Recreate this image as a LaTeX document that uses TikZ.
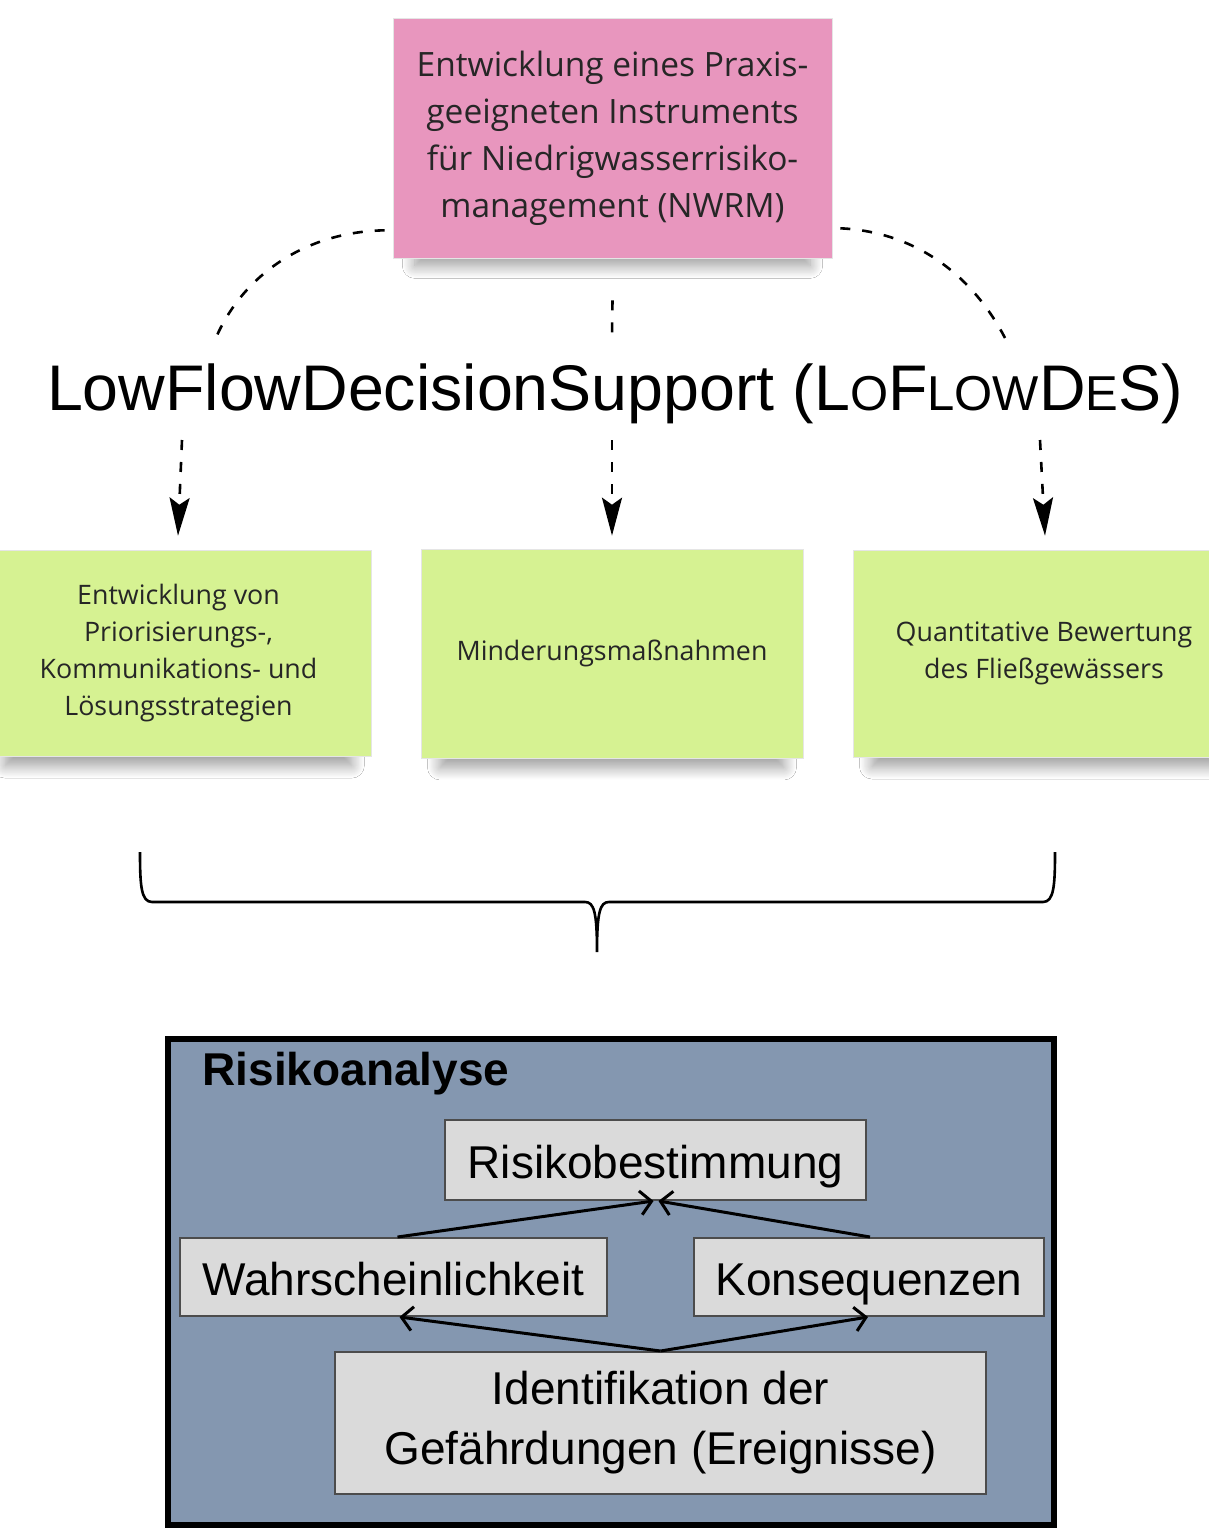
\documentclass[tikz,border=0pt]{standalone}
\usepackage{fontspec}
\newfontfamily\notefont{Open Sans}
\newfontfamily\arialfont{Liberation Sans}
\usetikzlibrary{arrows.meta,shadows.blur}
\definecolor{notepink}{RGB}{232,150,190}
\definecolor{notegreen}{RGB}{214,242,146}
\definecolor{riskblue}{RGB}{132,151,176}
\definecolor{boxgray}{RGB}{218,218,218}
\newcommand{\smallcap}[1]{{\fontsize{49}{49}\selectfont #1}}

\begin{document}
\begin{tikzpicture}[x=1pt,y=-1pt,
    note/.style={font=\notefont, text=black!85, align=center, draw=black!10, line width=0.6pt,
        blur shadow={shadow xshift=0pt, shadow yshift=-22pt, shadow scale=0.9,
            shadow opacity=40, shadow blur steps=14, shadow blur radius=14pt}},
    dashline/.style={line width=2.6pt, dash pattern=on 10pt off 12pt},
    dasharrow/.style={dashline, -{Stealth[length=38pt,width=20pt,inset=7pt]}},
    riskbox/.style={draw=black!70, line width=2pt, fill=boxgray, inner sep=0pt,
        font=\arialfont\fontsize{46}{60}\selectfont, align=center},
    riskline/.style={riskbox, text height=41pt, text depth=4pt},
    riskarrow/.style={line width=3pt, -{Straight Barb[length=11pt,width=24pt,line width=3pt]}}
]
    \useasboundingbox[fill=white] (0,0) rectangle (1209,1531);

    \node[note, fill=notepink, minimum width=439pt, minimum height=240pt,
        font=\notefont\fontsize{33.5}{47}\selectfont] (nwrm) at (612.5,138)
        {Entwicklung eines Praxis-\\geeigneten Instruments\\f\"ur Niedrigwasserrisiko-\\management (NWRM)};

    \node[font=\arialfont\fontsize{64.5}{70}\selectfont] (title) at (615,394)
        {LowFlowDecisionSupport (L\smallcap{O}F\smallcap{LOW}D\smallcap{E}S)};

    \node[note, fill=notegreen, minimum width=385pt, minimum height=206pt,
        font=\notefont\fontsize{26.8}{37}\selectfont] (strat) at (178.5,653)
        {Entwicklung von\\Priorisierungs-,\\Kommunikations- und\\L\"osungsstrategien};
    \node[note, fill=notegreen, minimum width=382pt, minimum height=209pt,
        font=\notefont\fontsize{26.8}{37}\selectfont] (minder) at (612,653.5)
        {Minderungsma\ss nahmen};
    \node[note, fill=notegreen, minimum width=382pt, minimum height=207pt,
        font=\notefont\fontsize{26.8}{37}\selectfont] (quant) at (1044,653.5)
        {Quantitative Bewertung\\des Flie\ss gew\"assers};

    \coordinate (arcL) at (215,340);
    \coordinate (arcM) at (612,336);
    \coordinate (arcR) at (1005,338);
    \coordinate (outL) at (182,440);
    \coordinate (outM) at (612,440);
    \coordinate (outR) at (1040,440);

    \draw[dashline] ([xshift=-8pt,yshift=28pt]nwrm.south west)
        .. controls (300,232) and (240,280) .. (arcL);
    \draw[dashline] ([xshift=8pt,yshift=30pt]nwrm.south east)
        .. controls (920,232) and (975,280) .. (arcR);
    \draw[dashline] ([yshift=-42pt]nwrm.south) -- (arcM);

    \draw[dasharrow] (outL) -- ([xshift=-0.5pt,yshift=14pt]strat.north);
    \draw[dasharrow] (outM) -- ([yshift=13pt]minder.north);
    \draw[dasharrow] (outR) -- ([xshift=1pt,yshift=14pt]quant.north);

    \draw[line width=2.6pt] (140,852) .. controls (140,885) and (141,902) .. (152,902)
        -- (585,902) .. controls (594,902) and (597,912) .. (597,952)
        .. controls (597,912) and (600,902) .. (609,902)
        -- (1043,902) .. controls (1054,902) and (1055,885) .. (1055,852);

    \node[draw=black, line width=6pt, fill=riskblue, minimum width=886pt,
        minimum height=486pt] (analyse) at (611,1282) {};
    \node[anchor=base west, font=\arialfont\bfseries\fontsize{46}{50}\selectfont]
        (analysetitle) at (199,1085) {Risikoanalyse};

    \node[riskline, minimum width=421pt, minimum height=80pt] (bestimm) at (655.5,1160) {Risikobestimmung};
    \node[riskline, minimum width=427pt, minimum height=78pt] (wahr) at (393.5,1277) {Wahrscheinlichkeit};
    \node[riskline, minimum width=350pt, minimum height=78pt] (kons) at (869,1277) {Konsequenzen};
    \node[riskbox, minimum width=651pt, minimum height=142pt]
        (ident) at (660.5,1423) {Identifikation der\\Gef\"ahrdungen (Ereignisse)};

    \draw[riskarrow] ([xshift=4pt]wahr.north) -- ([xshift=-2pt]bestimm.south);
    \draw[riskarrow] ([xshift=1pt]kons.north) -- ([xshift=3pt]bestimm.south);
    \draw[riskarrow] (ident.north) -- ([xshift=6pt]wahr.south);
    \draw[riskarrow] (ident.north) -- ([xshift=-1pt]kons.south);
\end{tikzpicture}
\end{document}
